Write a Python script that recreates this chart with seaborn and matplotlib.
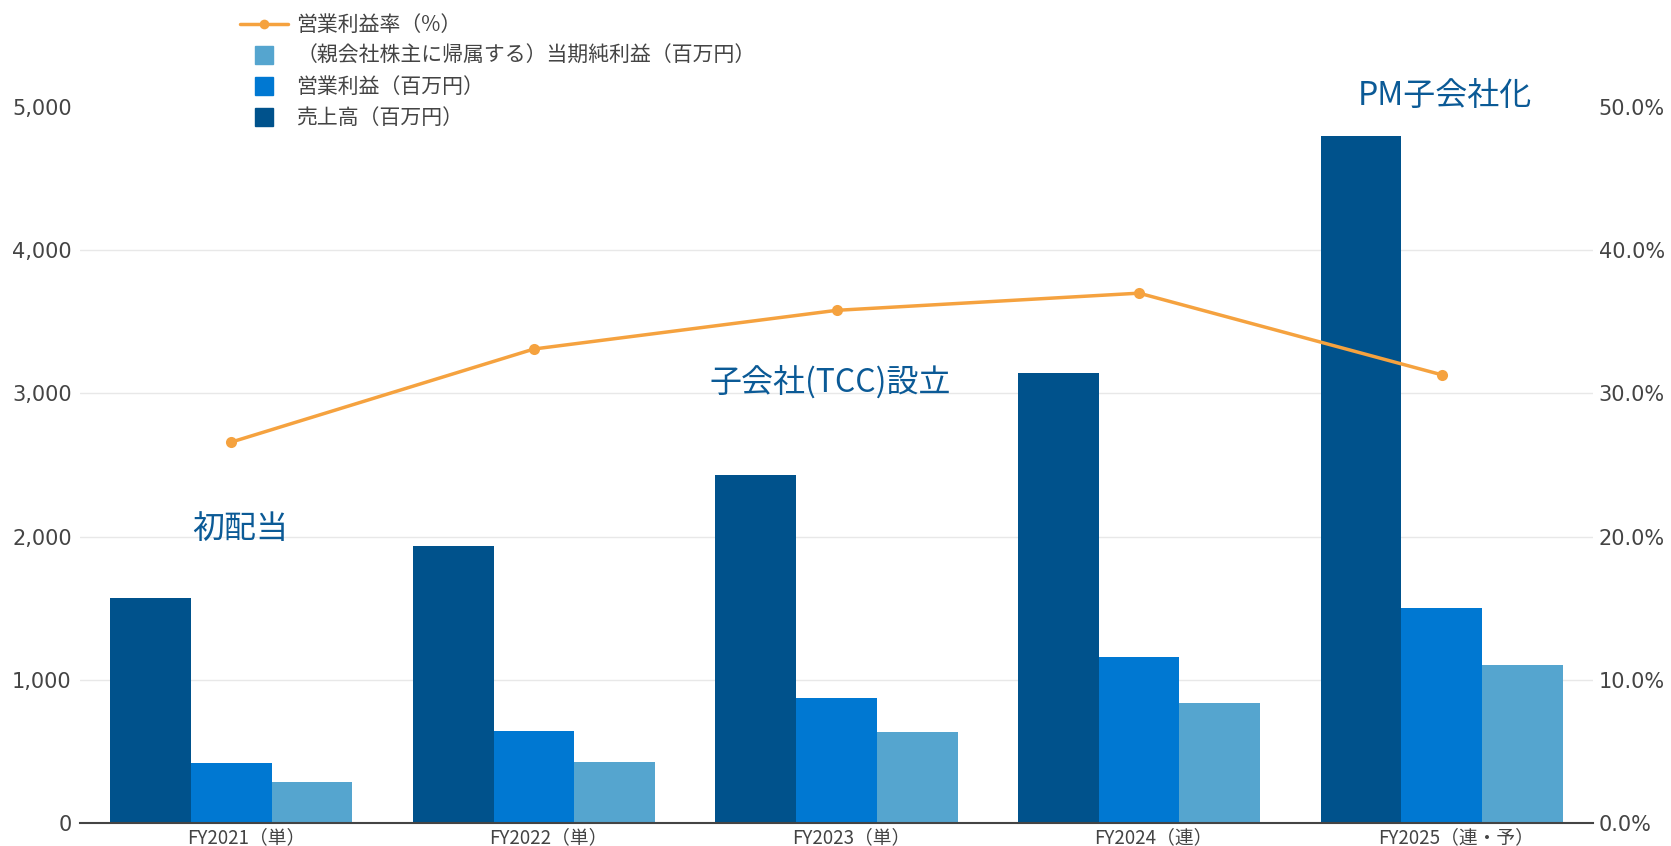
import numpy as np
import pandas as pd
import matplotlib
matplotlib.use("Agg")
import matplotlib.pyplot as plt
from matplotlib.lines import Line2D
import seaborn as sns

categories = ["FY2021（単）", "FY2022（単）", "FY2023（単）", "FY2024（連）", "FY2025（連・予）"]
sales = [1570, 1935, 2433, 3140, 4800]
op_income = [417, 640, 870, 1161, 1500]
net_income = [283, 424, 632, 841, 1100]
op_margin = [26.6, 33.1, 35.8, 37.0, 31.3]

lbl_sales = "売上高（百万円）"
lbl_op = "営業利益（百万円）"
lbl_ni = "（親会社株主に帰属する）当期純利益（百万円）"
lbl_margin = "営業利益率（%）"

annotations = [("初配当", 0.03, 2050), ("子会社(TCC)設立", 1.98, 3080), ("PM子会社化", 4.01, 5080)]

c_sales = "#00528c"
c_op = "#0078d2"
c_ni = "#55a5cf"
c_line = "#f5a23f"
c_text = "#444444"
c_annot = "#0b5a96"

sns.set_theme(style="white")
plt.rcParams["font.family"] = ["Noto Sans CJK JP", "DejaVu Sans"]

df = pd.DataFrame({
    "cat": categories * 3,
    "series": [lbl_sales] * 5 + [lbl_op] * 5 + [lbl_ni] * 5,
    "value": sales + op_income + net_income,
})

fig = plt.figure(figsize=(16.71, 8.46), dpi=100)
ax = fig.add_axes([80 / 1671, 1 - 823 / 846, (1593 - 80) / 1671, (823 - 107) / 846])

sns.barplot(data=df, x="cat", y="value", hue="series", order=categories,
            hue_order=[lbl_sales, lbl_op, lbl_ni],
            palette=[c_sales, c_op, c_ni], width=0.8, ax=ax, legend=False,
            saturation=1, edgecolor="none", linewidth=0)

ax.set_xlim(-0.5, 4.5)
ax.set_ylim(0, 5000)
ax.set_yticks([0, 1000, 2000, 3000, 4000, 5000])
ax.set_yticklabels([f"{v:,}" for v in [0, 1000, 2000, 3000, 4000, 5000]],
                   family="DejaVu Sans", fontsize=15, color=c_text)
ax.set_xticks(range(len(categories)))
ax.set_xticklabels([])
for i, cat in enumerate(categories):
    ax.annotate(cat, xy=(i, 0), xycoords=("data", "axes fraction"),
                xytext=(10.5, -3), textcoords="offset points",
                ha="center", va="top", fontsize=13.5, color=c_text, annotation_clip=False)
ax.tick_params(axis="both", length=0)
ax.tick_params(axis="y", pad=6)
ax.set_xlabel("")
ax.set_ylabel("")
for y in [1000, 2000, 3000, 4000]:
    ax.axhline(y, color="#e8e8e8", lw=1, zorder=0)
for s in ["top", "left", "right"]:
    ax.spines[s].set_visible(False)
ax.spines["bottom"].set_color("#444444")
ax.spines["bottom"].set_linewidth(1.5)
ax.set_axisbelow(True)

ax2 = ax.twinx()
sns.lineplot(x=list(range(len(categories))), y=op_margin, ax=ax2, color=c_line,
             marker="o", markersize=8, markeredgewidth=0, linewidth=2.5, legend=False)
ax2.set_ylim(0, 50)
ax2.set_yticks([0, 10, 20, 30, 40, 50])
ax2.set_yticklabels([f"{v:.1f}%" for v in [0, 10, 20, 30, 40, 50]],
                    family="DejaVu Sans", fontsize=15, color=c_text)
ax2.tick_params(axis="y", length=0, pad=4)
ax2.set_ylabel("")
for s in ["top", "left", "right", "bottom"]:
    ax2.spines[s].set_visible(False)

for text, x, y in annotations:
    ax.text(x, y, text, ha="center", va="center", fontsize=23, color=c_annot,
            clip_on=False, zorder=5)

handles = [
    Line2D([0], [0], color=c_line, lw=2.5, marker="o", markersize=7, markeredgewidth=0),
    Line2D([0], [0], color=c_ni, lw=0, marker="s", markersize=13),
    Line2D([0], [0], color=c_op, lw=0, marker="s", markersize=13),
    Line2D([0], [0], color=c_sales, lw=0, marker="s", markersize=13),
]
labels = [lbl_margin, lbl_ni, lbl_op, lbl_sales]
leg = fig.legend(handles, labels, loc="upper left", bbox_to_anchor=(240 / 1671, 1 - 14 / 846),
                 frameon=False, fontsize=15, labelspacing=0.43, handlelength=2.3,
                 handletextpad=0.4, borderaxespad=0, borderpad=0)
for t in leg.get_texts():
    t.set_color(c_text)

fig.savefig("out.png", dpi=100)
